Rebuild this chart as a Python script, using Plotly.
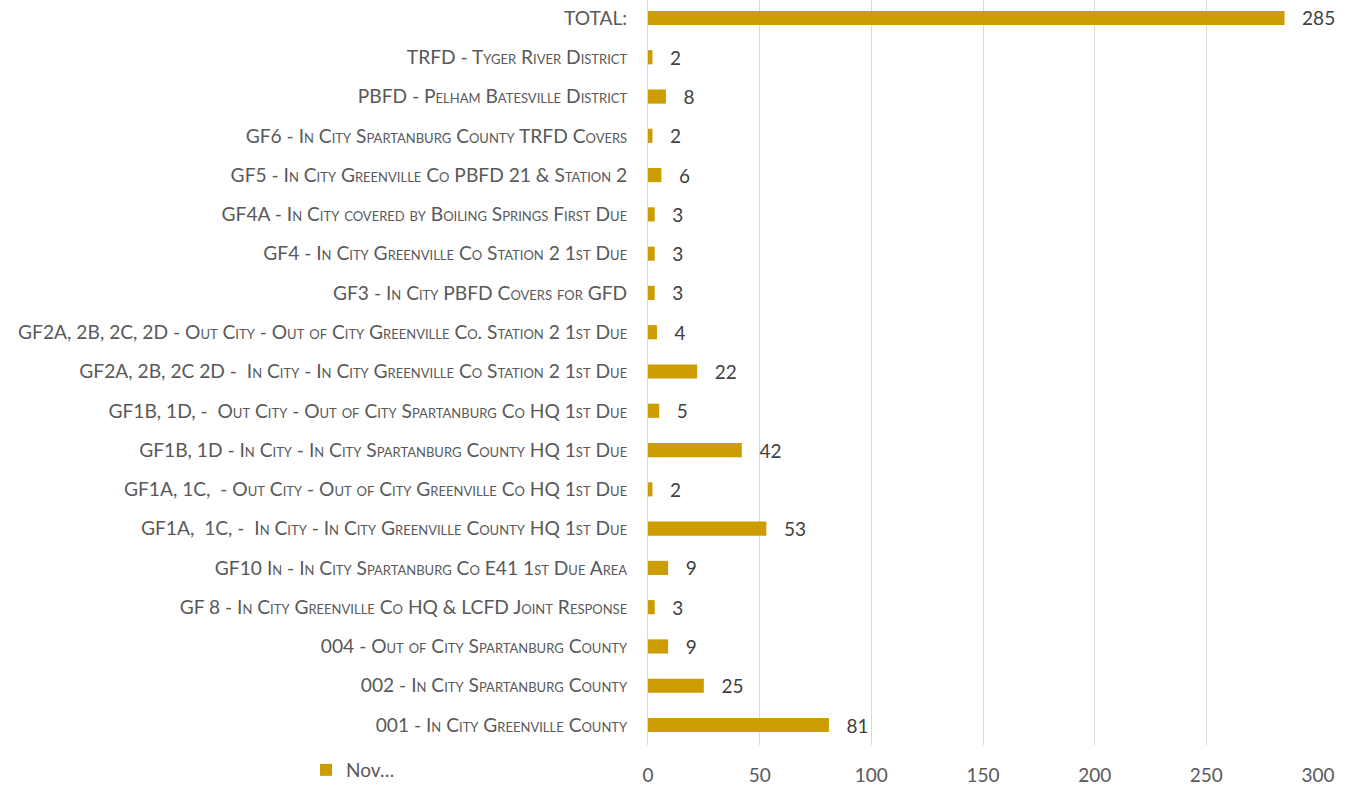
import plotly.graph_objects as go

categories = [
    "001 - In City Greenville County",
    "002 - In City Spartanburg County",
    "004 - Out of City Spartanburg County",
    "GF 8 - In City Greenville Co HQ & LCFD Joint Response",
    "GF10 In - In City Spartanburg Co E41 1st Due Area",
    "GF1A,  1C, -  In City - In City Greenville County HQ 1st Due",
    "GF1A, 1C,  - Out City - Out of City Greenville Co HQ 1st Due",
    "GF1B, 1D - In City - In City Spartanburg County HQ 1st Due",
    "GF1B, 1D, -  Out City - Out of City Spartanburg Co HQ 1st Due",
    "GF2A, 2B, 2C 2D -  In City - In City Greenville Co Station 2 1st Due",
    "GF2A, 2B, 2C, 2D - Out City - Out of City Greenville Co. Station 2 1st Due",
    "GF3 - In City PBFD Covers for GFD",
    "GF4 - In City Greenville Co Station 2 1st Due",
    "GF4A - In City covered by Boiling Springs First Due",
    "GF5 - In City Greenville Co PBFD 21 & Station 2",
    "GF6 - In City Spartanburg County TRFD Covers",
    "PBFD - Pelham Batesville District",
    "TRFD - Tyger River District",
    "TOTAL:",
]
values = [81, 25, 9, 3, 9, 53, 2, 42, 5, 22, 4, 3, 3, 3, 6, 2, 8, 2, 285]
series_name = "Nov…"
x_ticks = [0, 50, 100, 150, 200, 250, 300]

FONT = "Lato, 'Open Sans', sans-serif"
BAR = "#CC9C00"

fig = go.Figure()
fig.add_trace(go.Bar(
    y=categories, x=values, orientation="h", name=series_name,
    marker=dict(color=BAR, line=dict(width=0)),
    text=["\u00a0\u00a0\u00a0" + str(v) for v in values],
    textposition="outside", cliponaxis=False, constraintext="none",
    textfont=dict(family=FONT, size=19, color="#404040"),
    showlegend=True,
))

fig.update_layout(
    width=1351, height=800,
    margin=dict(l=648, r=33, t=0, b=55),
    paper_bgcolor="white", plot_bgcolor="white",
    bargap=0.64,
    showlegend=True,
    legend=dict(orientation="h", x=-0.5104, y=-25 / 745, xanchor="left", yanchor="middle",
                font=dict(family=FONT, size=19, color="#595959"),
                itemwidth=30, bgcolor="rgba(0,0,0,0)"),
    xaxis=dict(range=[0, 300], tickvals=x_ticks, showgrid=True, gridcolor="#D9D9D9",
               gridwidth=1, zeroline=False, showline=False,
               tickfont=dict(family=FONT, size=19, color="#595959"),
               ticks="", ticklabelstandoff=17, fixedrange=True),
    yaxis=dict(type="category", range=[-0.509, 18.458], automargin=False,
               showline=True, linecolor="#D9D9D9", linewidth=1, showgrid=False,
               tickfont=dict(family=FONT, size=19.2, color="#595959", variant="small-caps"),
               ticks="", ticklabelstandoff=16),
)

fig.write_html("out.html", config={"displayModeBar": False},
               post_script="document.body.style.margin='0';document.body.style.overflow='hidden';")
